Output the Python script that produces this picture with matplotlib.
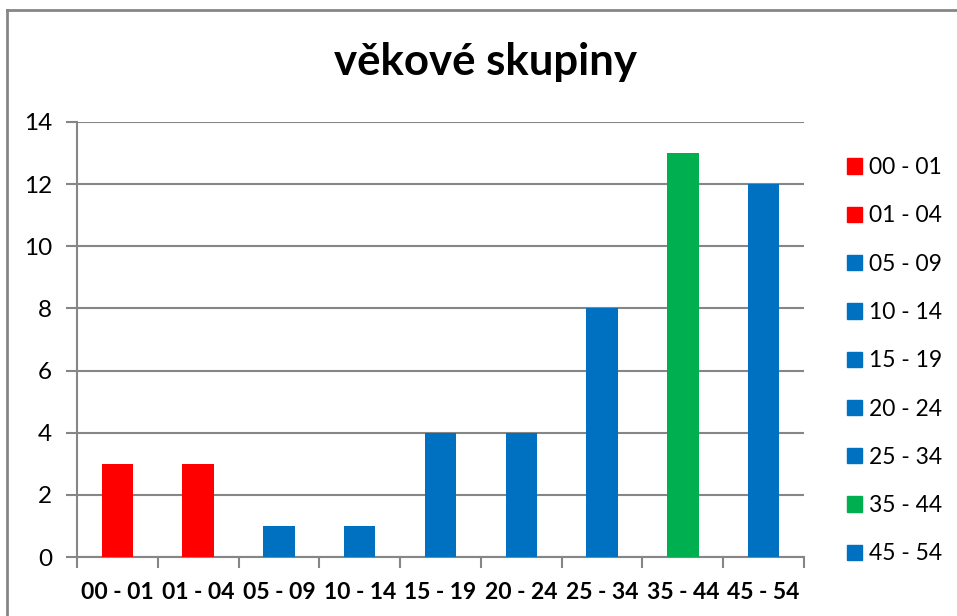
import matplotlib.pyplot as plt
from matplotlib.lines import Line2D

# data
categories = ["00 - 01", "01 - 04", "05 - 09", "10 - 14", "15 - 19",
              "20 - 24", "25 - 34", "35 - 44", "45 - 54"]
counts = [3, 3, 1, 1, 4, 4, 8, 13, 12]
bar_colors = ["#ff0000", "#ff0000", "#0070c0", "#0070c0", "#0070c0",
              "#0070c0", "#0070c0", "#00b050", "#0070c0"]
y_ticks = [0, 2, 4, 6, 8, 10, 12, 14]

plt.rcParams["font.family"] = ["Lato", "DejaVu Sans"]

W, H = 957, 616
fig = plt.figure(figsize=(W / 100, H / 100), dpi=100)
ax = fig.add_axes([77 / W, (H - 557) / H, (804 - 77) / W, (557 - 122) / H])

x = range(len(categories))
bars = ax.bar(x, counts, width=0.39, color=bar_colors, zorder=3)

grid_col = "#868686"
ax.set_xlim(-0.5, len(categories) - 0.5)
ax.set_ylim(0, 14)
ax.set_yticks(y_ticks)
ax.set_yticklabels([str(v) for v in y_ticks], fontsize=17.5)
ax.yaxis.grid(True, color=grid_col, linewidth=1.5, zorder=0)
ax.tick_params(axis="y", length=8, width=1.5, color=grid_col, pad=10)

# category labels centered, tick marks at category boundaries
ax.set_xticks(list(x))
ax.set_xticklabels(categories, fontsize=16.5, fontweight="bold")
ax.tick_params(axis="x", length=0, pad=18)
ax.set_xticks([i - 0.5 for i in range(len(categories) + 1)], minor=True)
ax.tick_params(axis="x", which="minor", length=8, width=1.5, color=grid_col)

for side in ["top", "right"]:
    ax.spines[side].set_visible(False)
for side in ["left", "bottom"]:
    ax.spines[side].set_color(grid_col)
    ax.spines[side].set_linewidth(1.5)

fig.text(486 / W, 1 - 62 / H, "věkové skupiny", fontsize=31.5, fontweight="bold",
         ha="center", va="center")

handles = [plt.Rectangle((0, 0), 1, 1, color=c) for c in bar_colors]
fig.legend(handles, categories, loc="upper left",
           bbox_to_anchor=(838 / W, 1 - 148 / H), frameon=False,
           fontsize=16.5, handlelength=0.65, handleheight=0.65,
           handletextpad=0.3, labelspacing=1.19, borderaxespad=0)

# chart-area border (top and left visible in crop)
fig.add_artist(Line2D([7 / W, 1], [1 - 10 / H, 1 - 10 / H], color=grid_col,
                      linewidth=2, transform=fig.transFigure))
fig.add_artist(Line2D([7 / W, 7 / W], [0, 1 - 10 / H], color=grid_col,
                      linewidth=2, transform=fig.transFigure))

fig.savefig("out.png", dpi=100)
